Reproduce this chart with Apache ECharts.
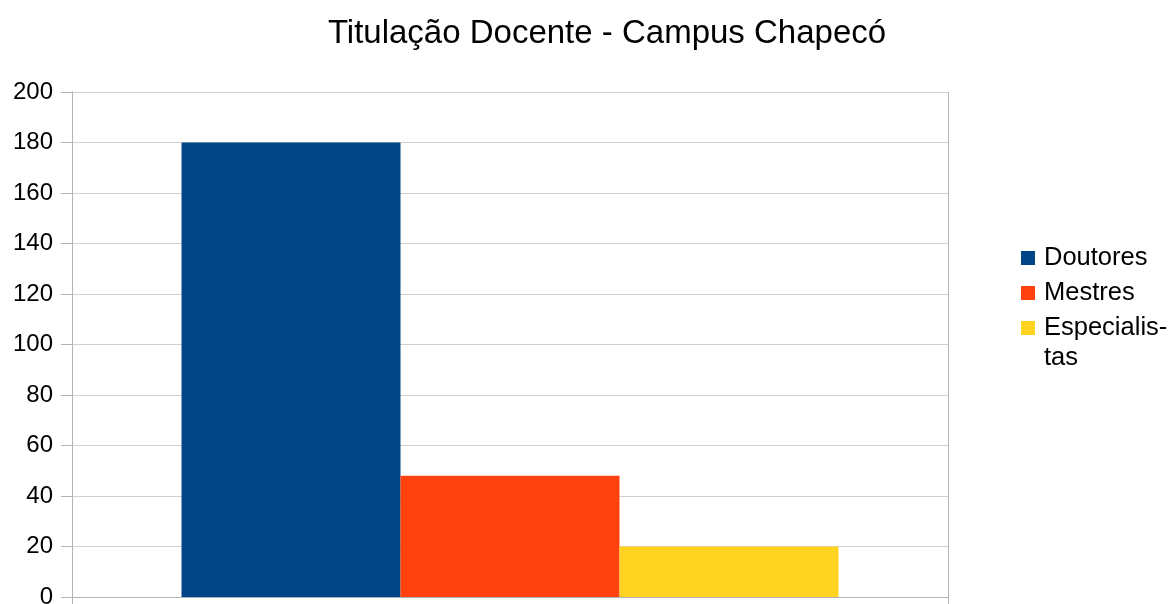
<!DOCTYPE html>
<html>
<head>
<meta charset="utf-8">
<script src="https://cdn.jsdelivr.net/npm/echarts@6/dist/echarts.min.js"></script>
<style>html,body{margin:0;padding:0;background:#fff}#c{width:1174px;height:604px}</style>
</head>
<body>
<div id="c"></div>
<script>
const titleText = 'Titulação Docente - Campus Chapecó';
const categories = [''];
const seriesNames = ['Doutores', 'Mestres', 'Especialistas'];
const doutores = [180];
const mestres = [48];
const especialistas = [20];
const colors = ['#004586', '#ff420e', '#ffd320'];

const chart = echarts.init(document.getElementById('c'), null, {renderer: 'canvas'});
const font = 'Liberation Sans';
const values = [doutores, mestres, especialistas];
chart.setOption({
  animation: false,
  backgroundColor: '#ffffff',
  title: {
    text: titleText,
    left: 602, top: 12, textAlign: 'center',
    textStyle: {fontFamily: font, fontSize: 33, fontWeight: 'normal', color: '#000'}
  },
  legend: {
    orient: 'vertical', left: 1021, top: 243, padding: 0, itemGap: 5,
    itemWidth: 14, itemHeight: 14, icon: 'rect',
    data: seriesNames,
    formatter: function (n) { return n === 'Especialistas' ? 'Especialis-\n{b|tas}' : n; },
    textStyle: {
      fontFamily: font, fontSize: 25.5, color: '#000', lineHeight: 30, padding: [0, 0, 0, 4],
      rich: {b: {fontFamily: font, fontSize: 25.5, color: '#000', lineHeight: 0, verticalAlign: 'top', padding: [2, 0, 0, 0]}}
    }
  },
  grid: {left: 72, right: 226, top: 92, bottom: 7, containLabel: false, outerBoundsMode: 'none'},
  xAxis: {
    type: 'category', data: categories,
    axisLine: {lineStyle: {color: '#b3b3b3', width: 1}},
    axisTick: {show: true, length: 11, lineStyle: {color: '#b3b3b3'}},
    axisLabel: {show: false},
    splitLine: {show: true, lineStyle: {color: '#b3b3b3', width: 1}}
  },
  yAxis: {
    type: 'value', min: 0, max: 200, interval: 20,
    axisLine: {show: true, lineStyle: {color: '#b3b3b3', width: 1}},
    axisTick: {show: true, length: 11, lineStyle: {color: '#b3b3b3'}},
    axisLabel: {margin: 19, fontFamily: font, fontSize: 24, color: '#000', padding: [4, 0, 0, 0]},
    splitLine: {show: true, lineStyle: {color: '#d0d0d0', width: 1}}
  },
  series: seriesNames.map(function (n, i) {
    return {
      name: n, type: 'bar', data: values[i],
      barGap: '0%', barCategoryGap: '25%',
      itemStyle: {color: colors[i]}
    };
  })
});
</script>
</body>
</html>
